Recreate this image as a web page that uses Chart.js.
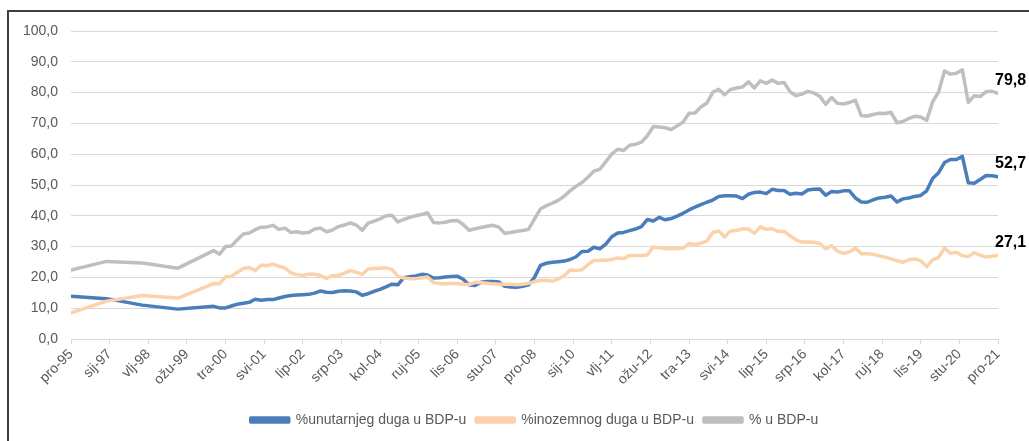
<!DOCTYPE html>
<html>
<head>
<meta charset="utf-8">
<script src="https://cdn.jsdelivr.net/npm/chart.js@4.4.1/dist/chart.umd.min.js"></script>
<style>
  html, body { margin: 0; padding: 0; background: #fff; overflow: hidden; }
  #frame { position: absolute; left: 7px; top: 10px; width: 1040px; height: 450px;
           border-left: 2px solid #404040; border-top: 2px solid #404040; }
  #chart { position: absolute; left: 0; top: 0; }
</style>
</head>
<body>
<div id="frame"></div>
<canvas id="chart" width="1029" height="441"></canvas>
<script>
// mjeseci od pro-95 (0 = prosinac 1995)
const months = [0, 12, 24, 36,
  48, 50, 52, 54, 56, 58, 60, 62, 64, 66,
  68, 70, 72, 74, 76, 78, 80, 82, 84, 86,
  88, 90, 92, 94, 96, 98, 100, 102, 104, 106,
  108, 110, 112, 114, 116, 118, 120, 122, 124, 126,
  128, 130, 132, 134, 136, 138, 140, 142, 144, 146,
  148, 150, 152, 154, 156, 158, 160, 162, 164, 166,
  168, 170, 172, 174, 176, 178, 180, 182, 184, 186,
  188, 190, 192, 194, 196, 198, 200, 202, 204, 206,
  208, 210, 212, 214, 216, 218, 220, 222, 224, 226,
  228, 230, 232, 234, 236, 238, 240, 242, 244, 246,
  248, 250, 252, 254, 256, 258, 260, 262, 264, 266,
  268, 270, 272, 274, 276, 278, 280, 282, 284, 286,
  288, 290, 292, 294, 296, 298, 300, 302, 304, 306,
  308, 310, 312];

const tickLabels = ["pro-95", "sij-97", "vlj-98", "ožu-99", "tra-00", "svi-01", "lip-02", "srp-03",
  "kol-04", "ruj-05", "lis-06", "stu-07", "pro-08", "sij-10", "vlj-11", "ožu-12", "tra-13",
  "svi-14", "lip-15", "srp-16", "kol-17", "ruj-18", "lis-19", "stu-20", "pro-21"];

const domesticDebt = [13.9, 13.1, 11.0, 9.7,
  10.6, 10.1, 10.1, 10.7, 11.3, 11.6, 11.9, 12.9, 12.6, 12.8,
  12.8, 13.3, 13.8, 14.1, 14.3, 14.4, 14.5, 14.9, 15.6, 15.2,
  15.1, 15.5, 15.7, 15.6, 15.3, 14.2, 14.7, 15.5, 16.1, 16.9,
  17.8, 17.6, 19.9, 20.2, 20.5, 21.0, 20.8, 19.8, 19.9, 20.1,
  20.3, 20.4, 19.4, 17.5, 17.4, 18.4, 18.7, 18.7, 18.5, 17.1,
  16.9, 16.8, 17.1, 17.6, 20.0, 23.9, 24.6, 24.9, 25.1, 25.3,
  25.8, 26.7, 28.4, 28.5, 29.8, 29.3, 30.8, 33.2, 34.4, 34.6,
  35.2, 35.7, 36.5, 38.8, 38.3, 39.5, 38.7, 39.1, 39.9, 40.8,
  41.9, 42.8, 43.6, 44.4, 45.1, 46.3, 46.5, 46.5, 46.4, 45.6,
  47.0, 47.6, 47.7, 47.2, 48.6, 48.2, 48.2, 47.0, 47.3, 47.1,
  48.4, 48.6, 48.7, 46.7, 47.9, 47.7, 48.1, 48.1, 45.8, 44.5,
  44.4, 45.2, 45.8, 46.0, 46.4, 44.5, 45.5, 45.8, 46.3, 46.6,
  48.1, 52.1, 54.0, 57.3, 58.3, 58.3, 59.3, 50.7, 50.6, 51.8,
  53.1, 53.0, 52.7];

const foreignDebt = [8.5, 12.3, 14.1, 13.3,
  18.0, 17.9, 20.2, 20.3, 21.7, 22.9, 23.2, 22.2, 24.0, 23.8,
  24.3, 23.6, 23.1, 21.5, 20.9, 20.6, 21.0, 21.0, 20.6, 19.7,
  20.6, 20.6, 21.4, 22.2, 21.7, 21.0, 22.7, 22.9, 23.0, 23.1,
  22.6, 20.4, 19.8, 19.6, 19.6, 19.8, 20.1, 18.3, 18.0, 17.9,
  18.0, 18.0, 17.8, 17.7, 18.4, 18.3, 18.1, 17.9, 17.8, 17.8,
  17.8, 17.6, 17.8, 18.1, 18.6, 19.1, 19.0, 18.8, 19.5, 20.6,
  22.4, 22.2, 22.5, 24.2, 25.5, 25.6, 25.6, 25.8, 26.3, 26.1,
  27.1, 27.1, 27.0, 27.3, 29.9, 29.6, 29.3, 29.3, 29.4, 29.5,
  31.0, 30.7, 31.1, 31.8, 34.6, 35.1, 33.1, 35.1, 35.2, 35.8,
  35.7, 34.3, 36.4, 35.6, 35.8, 34.9, 34.9, 33.5, 32.2, 31.5,
  31.5, 31.4, 31.0, 29.3, 30.3, 28.5, 27.8, 28.3, 29.5, 27.7,
  27.7, 27.5, 27.0, 26.6, 26.0, 25.4, 24.9, 25.7, 26.0, 25.4,
  23.5, 25.7, 26.5, 29.5, 27.8, 28.2, 27.0, 26.8, 28.0, 27.2,
  26.6, 26.9, 27.1];

const totalDebt = [22.4, 25.2, 24.7, 23.0,
  28.7, 27.5, 30.0, 30.2, 32.2, 34.1, 34.4, 35.5, 36.3, 36.4,
  36.9, 35.6, 36.0, 34.6, 34.8, 34.4, 34.6, 35.7, 36.0, 34.8,
  35.4, 36.5, 37.0, 37.7, 37.0, 35.3, 37.6, 38.3, 39.0, 40.0,
  40.2, 38.0, 38.8, 39.5, 40.0, 40.4, 41.0, 37.8, 37.7, 37.9,
  38.4, 38.5, 37.2, 35.3, 35.8, 36.2, 36.6, 36.9, 36.3, 34.3,
  34.6, 35.0, 35.2, 35.6, 39.0, 42.2, 43.3, 44.1, 45.0, 46.4,
  48.1, 49.6, 50.8, 52.5, 54.5, 55.1, 57.6, 60.0, 61.6, 61.2,
  62.9, 63.2, 63.9, 66.0, 69.0, 68.8, 68.6, 68.0, 69.2, 70.4,
  73.3, 73.4, 75.3, 76.6, 80.1, 81.1, 79.3, 81.0, 81.5, 81.8,
  83.5, 81.5, 83.8, 83.0, 84.1, 83.0, 83.3, 80.3, 79.0, 79.5,
  80.4, 79.9, 78.8, 76.2, 78.4, 76.5, 76.3, 76.8, 77.5, 72.5,
  72.4, 72.9, 73.3, 73.2, 73.6, 70.2, 70.6, 71.6, 72.3, 72.1,
  71.0, 77.0, 80.2, 87.0, 86.0, 86.3, 87.4, 76.8, 79.0, 78.7,
  80.3, 80.4, 79.8];

const FONT = '"Liberation Sans", Arial, sans-serif';
const GRID = "#d9d9d9";
const TEXT = "#595959";

function fmtComma(v) {
  return Number(v).toFixed(1).replace(".", ",");
}

function toPoints(values) {
  return months.map((m, i) => ({ x: m, y: values[i] }));
}

// oznake zadnje vrijednosti desno od linije
const endLabels = {
  id: "endLabels",
  afterDatasetsDraw(chart) {
    const ctx = chart.ctx;
    ctx.save();
    ctx.font = `bold 16px ${FONT}`;
    ctx.fillStyle = "#000";
    ctx.textAlign = "left";
    ctx.textBaseline = "middle";
    chart.data.datasets.forEach((ds, i) => {
      const meta = chart.getDatasetMeta(i);
      const pt = meta.data[meta.data.length - 1];
      const last = ds.data[ds.data.length - 1].y;
      ctx.fillText(fmtComma(last), pt.x - 3, pt.y - 13);
    });
    ctx.restore();
  }
};

new Chart(document.getElementById("chart"), {
  type: "line",
  data: {
    datasets: [
      { label: "%unutarnjeg duga u BDP-u", data: toPoints(domesticDebt), borderColor: "#4a7ebb", backgroundColor: "#4a7ebb", order: 3 },
      { label: "%inozemnog duga u BDP-u", data: toPoints(foreignDebt), borderColor: "#fcd2ab", backgroundColor: "#fcd2ab", order: 2 },
      { label: "% u BDP-u", data: toPoints(totalDebt), borderColor: "#bfbfbf", backgroundColor: "#bfbfbf", order: 1 }
    ]
  },
  options: {
    responsive: false,
    animation: false,
    devicePixelRatio: 1,
    elements: {
      line: { borderWidth: 3.5, tension: 0, borderJoinStyle: "round", borderCapStyle: "round" },
      point: { radius: 0 }
    },
    layout: { padding: { left: 0, right: 31, top: 31, bottom: 4 } },
    plugins: {
      tooltip: { enabled: false },
      legend: {
        position: "bottom",
        fullSize: false,
        labels: {
          boxWidth: 38, boxHeight: 4, padding: 10, color: TEXT,
          font: { family: FONT, size: 14 },
          sort: (a, b) => a.datasetIndex - b.datasetIndex
        }
      }
    },
    scales: {
      x: {
        type: "linear", min: 0, max: 312,
        afterFit: (scale) => { scale.height = 64; },
        border: { color: GRID },
        grid: { drawOnChartArea: false, color: GRID, tickLength: 5 },
        ticks: {
          stepSize: 13, autoSkip: false, minRotation: 45, maxRotation: 45, padding: 2,
          color: TEXT, font: { family: FONT, size: 14 },
          callback: (v) => tickLabels[Math.round(v / 13)]
        }
      },
      y: {
        min: 0, max: 100,
        afterFit: (scale) => { scale.width = 71; },
        border: { display: false },
        grid: { color: GRID, drawTicks: false },
        ticks: { stepSize: 10, padding: 13, color: TEXT, font: { family: FONT, size: 14 }, callback: (v) => fmtComma(v) }
      }
    }
  },
  plugins: [endLabels]
});
</script>
</body>
</html>
